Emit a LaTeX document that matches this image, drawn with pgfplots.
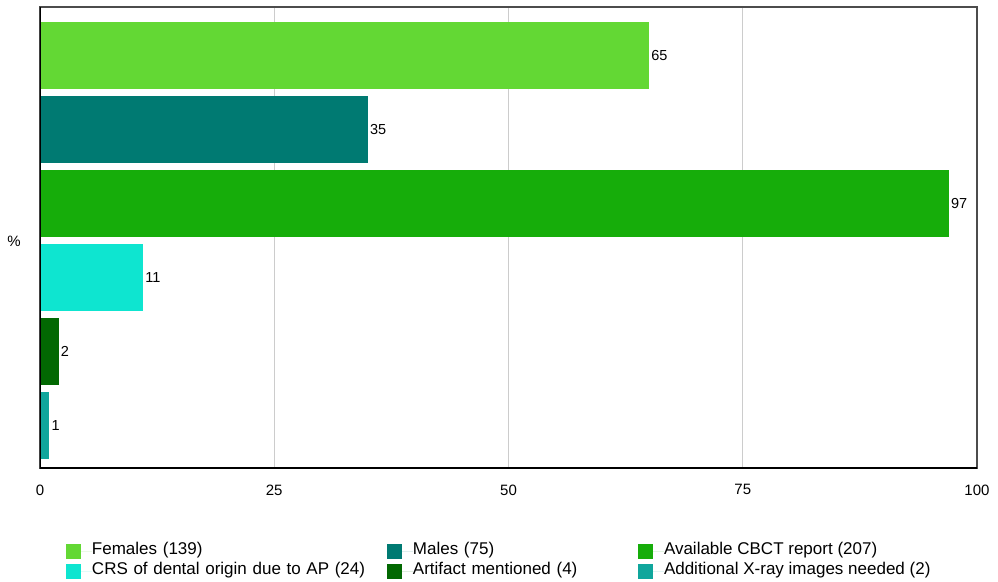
\documentclass[border=0pt]{standalone}
\usepackage{pgfplots}
\pgfplotsset{compat=1.18}
\usepackage{fontspec}
\setmainfont{Liberation Sans}

\definecolor{cFem}{RGB}{99,216,52}
\definecolor{cMal}{RGB}{0,122,114}
\definecolor{cCBCT}{RGB}{22,173,10}
\definecolor{cCRS}{RGB}{14,229,208}
\definecolor{cArt}{RGB}{2,104,2}
\definecolor{cAdd}{RGB}{16,166,156}

\pgfplotsset{/pgf/number format/assume math mode=true}

\begin{document}
\begin{tikzpicture}
\useasboundingbox (-40pt,-113pt) rectangle (958pt,468pt);
\begin{axis}[
  scale only axis,
  width=937pt, height=461pt,
  xbar, bar width=0.905, bar shift=0pt,
  xmin=0, xmax=100,
  ymin=-0.655, ymax=5.574, y dir=reverse,
  xtick={0,25,50,75,100}, ytick=\empty,
  major tick length=0pt,
  xmajorgrids,
  grid style={color=black!20, line width=0.8pt},
  axis line style={draw=black!70, line width=1.1pt},
  tick label style={font=\fontsize{15}{18}\selectfont},
  xticklabel style={yshift=-13pt},
  ylabel={\%},
  every axis y label/.style={at={(axis description cs:0,0.5)}, anchor=center, xshift=-26pt, yshift=-4pt, font=\fontsize{15}{18}\selectfont},
  nodes near coords,
  nodes near coords style={font=\fontsize{14.5}{16}\selectfont, anchor=west, inner sep=2pt, text=black},
  legend columns=3,
  legend cell align=left,
  legend style={
    at={(axis description cs:0,0)}, anchor=north west,
    xshift=26pt, yshift=-73pt,
    draw=none, fill=none, inner sep=0pt, outer sep=0pt,
    column sep=0pt, row sep=0pt,
    font=\fontsize{17}{20}\selectfont,
    nodes={inner sep=0pt, text height=13pt, text depth=7pt},
  },
  legend image code/.code={
    \fill[#1,draw=none] (0pt,-7.5pt) rectangle (15pt,7.5pt);
    \path (0pt,0pt) -- (26pt,0pt);
  },
]
\addplot[fill=cFem, draw=none] coordinates {(65,0)};
\addlegendentry[text width=295pt]{Females (139)}
\addplot[fill=cMal, draw=none] coordinates {(35,1)};
\addlegendentry[text width=225pt]{Males (75)}
\addplot[fill=cCBCT, draw=none] coordinates {(97,2)};
\addlegendentry{Available CBCT report (207)}
\addplot[fill=cCRS, draw=none] coordinates {(11,3)};
\addlegendentry[text width=295pt]{CRS of dental origin due to AP (24)}
\addplot[fill=cArt, draw=none] coordinates {(2,4)};
\addlegendentry[text width=225pt]{Artifact mentioned (4)}
\addplot[fill=cAdd, draw=none] coordinates {(1,5)};
\addlegendentry{Additional X-ray images needed (2)}
\draw[black, line width=1.8pt] (axis description cs:0,1) -- (axis description cs:0,0) -- (axis description cs:1,0);
\end{axis}
\end{tikzpicture}
\end{document}
